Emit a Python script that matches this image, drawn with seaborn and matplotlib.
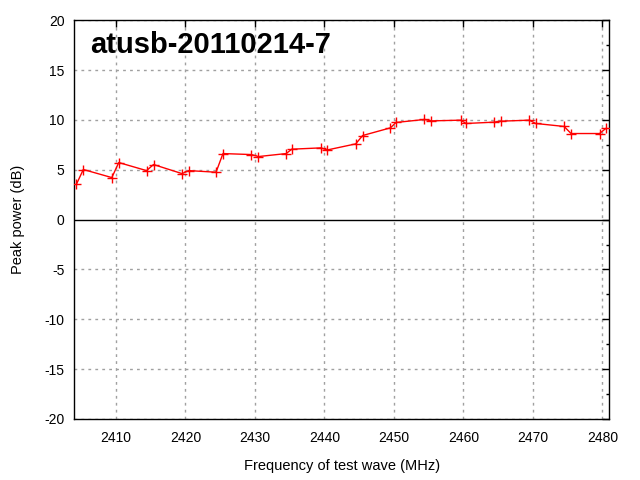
import numpy as np
import pandas as pd
import matplotlib
matplotlib.use("Agg")
import matplotlib.pyplot as plt
from matplotlib.ticker import MultipleLocator
import seaborn as sns

# dados
freq_mhz = [2404.3, 2405.3, 2409.4, 2410.4, 2414.4, 2415.4, 2419.5, 2420.5,
            2424.4, 2425.4, 2429.5, 2430.5, 2434.5, 2435.3, 2439.5, 2440.4,
            2444.5, 2445.5, 2449.5, 2450.3, 2454.4, 2455.4, 2459.6, 2460.4,
            2464.4, 2465.4, 2469.5, 2470.4, 2474.5, 2475.5, 2479.6, 2480.5]
peak_db = [3.55, 5.03, 4.22, 5.73, 4.92, 5.53, 4.62, 4.92,
           4.76, 6.63, 6.53, 6.33, 6.63, 7.07, 7.20, 6.99,
           7.60, 8.44, 9.21, 9.75, 10.05, 9.91, 9.98, 9.65,
           9.78, 9.88, 9.98, 9.65, 9.35, 8.64, 8.64, 9.15]
x_ticks = [2410, 2420, 2430, 2440, 2450, 2460, 2470, 2480]
y_ticks = [-20, -15, -10, -5, 0, 5, 10, 15, 20]
title_text = "atusb-20110214-7"

df = pd.DataFrame({"freq": freq_mhz, "power": peak_db})

sns.set_theme(style="white")
plt.rcParams["font.family"] = ["Liberation Sans", "DejaVu Sans"]
plt.rcParams["axes.unicode_minus"] = False
plt.rcParams["text.color"] = "black"
plt.rcParams["axes.labelcolor"] = "black"

fig = plt.figure(figsize=(6.4, 4.8), dpi=100)
ax = fig.add_axes([0.1161, 0.1271, 0.8359, 0.8306])

# grade pontilhada estilo gnuplot
for xv in x_ticks:
    ax.axvline(xv, color="#a0a0a0", lw=1, ls=(0, (2, 3)), zorder=0)
for yv in y_ticks:
    if yv != 0:
        ax.axhline(yv, color="#a0a0a0", lw=1, ls=(0, (2, 3)), zorder=0)
ax.axhline(0, color="black", lw=1, zorder=1)

sns.lineplot(data=df, x="freq", y="power", ax=ax, color="red", lw=1,
             marker="+", markersize=7, markeredgewidth=1, markeredgecolor="red",
             sort=False, zorder=3)

ax.set_xlim(2404, 2481)
ax.set_ylim(-20, 20)
ax.set_xticks(x_ticks)
ax.set_yticks(y_ticks)
ax.yaxis.set_minor_locator(MultipleLocator(2.5))
ax.tick_params(which="both", direction="in", top=True, right=True,
               colors="black", labelsize=10)
ax.tick_params(which="major", length=5, width=1)
ax.tick_params(which="minor", length=2.5, width=1)
ax.tick_params(axis="x", pad=9)
ax.tick_params(axis="y", pad=7)
for sp in ax.spines.values():
    sp.set_color("black")
    sp.set_linewidth(1)

ax.set_xlabel("Frequency of test wave (MHz)", fontsize=10.5, labelpad=10)
ax.set_ylabel("Peak power (dB)", fontsize=10.5, labelpad=14)

ax.text(0.03, 0.972, title_text, transform=ax.transAxes, fontsize=21,
        fontweight="bold", va="top", ha="left", color="black")

fig.savefig("out.png", dpi=100)
